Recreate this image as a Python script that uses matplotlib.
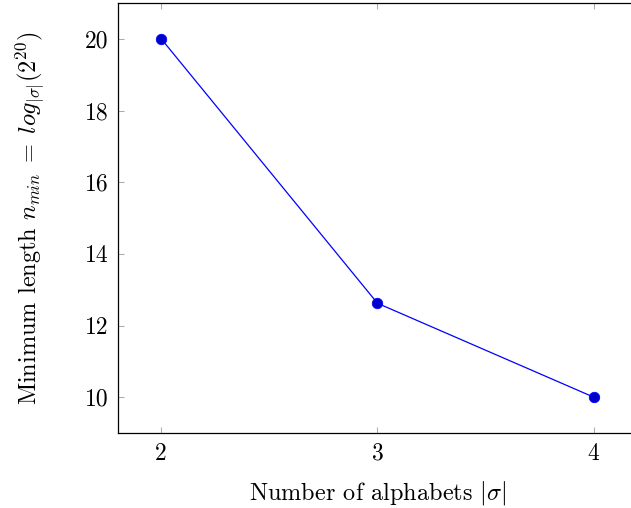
import matplotlib
matplotlib.use("Agg")
import matplotlib.pyplot as plt

plt.rcParams["font.family"] = "cmr10"
plt.rcParams["mathtext.fontset"] = "cm"
plt.rcParams["axes.formatter.use_mathtext"] = True

alphabet_sizes = [2, 3, 4]
min_lengths = [20.0, 12.62, 10.0]
x_ticks = [2, 3, 4]
y_ticks = [10, 12, 14, 16, 18, 20]

fig = plt.figure(figsize=(6.31, 5.08), dpi=100)
ax = fig.add_axes([118 / 631, 75 / 508, (637 - 118) / 631, (433 - 3) / 508])

ax.plot(alphabet_sizes, min_lengths, color=(0, 0, 1), linewidth=0.9,
        marker="o", markersize=7.5, markerfacecolor=(0, 0, 0.8),
        markeredgecolor=(0, 0, 1), markeredgewidth=0.6, clip_on=False)

ax.set_xlim(1.8, 4.2)
ax.set_ylim(9, 21)
ax.set_xticks(x_ticks)
ax.set_xticklabels([str(v) for v in x_ticks])
ax.set_yticks(y_ticks)
ax.set_yticklabels([str(v) for v in y_ticks])

ax.tick_params(direction="in", length=4.5, width=0.6, color="#999999",
               top=True, right=True, labelsize=17, pad=7)
for s in ax.spines.values():
    s.set_linewidth(0.9)
    s.set_color("black")

ax.set_xlabel(r"Number of alphabets $|\sigma|$", fontsize=17.5, labelpad=10.5)
ax.set_ylabel(r"Minimum length $n_{min}\;=\;log_{|\sigma|}(2^{20})$",
              fontsize=17.5, labelpad=27)

fig.savefig("out.png", dpi=100)
